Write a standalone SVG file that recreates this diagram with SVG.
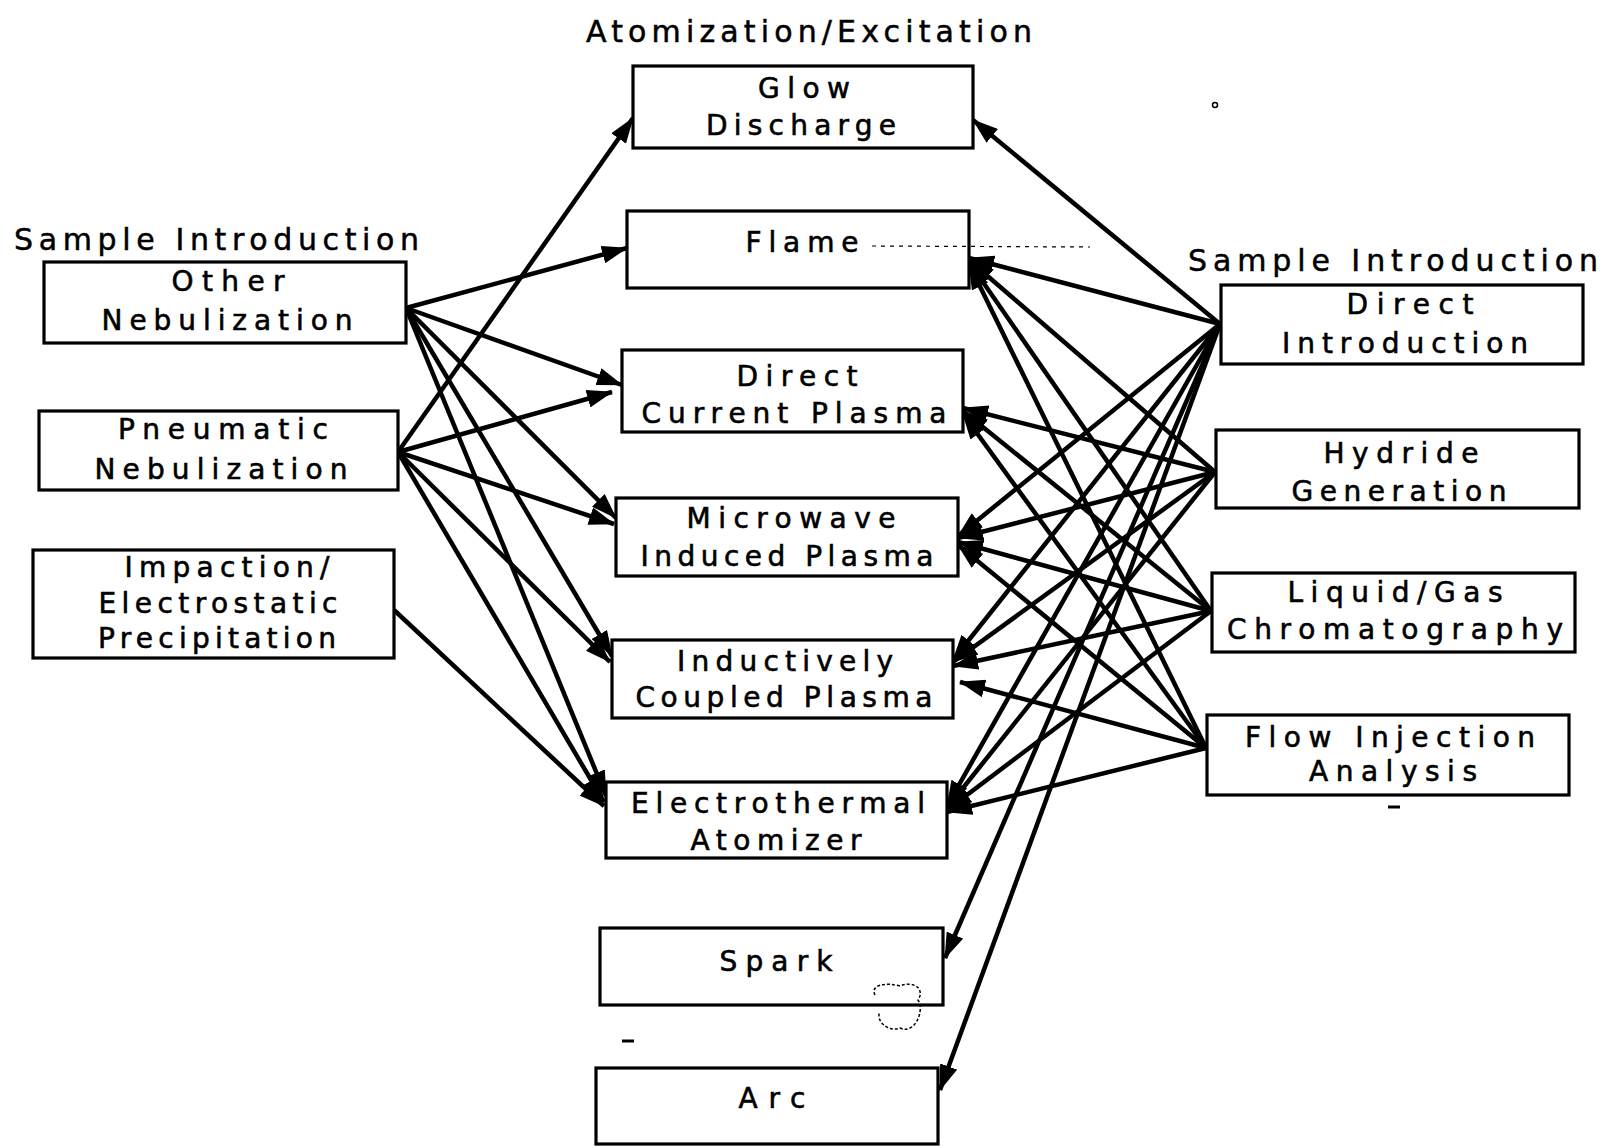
<svg xmlns="http://www.w3.org/2000/svg" width="1606" height="1146" viewBox="0 0 1606 1146">
<defs>
<style>
.box{fill:#fff;stroke:#000;stroke-width:3.2}
.t{font-family:"DejaVu Sans","Liberation Sans",Arial,sans-serif;font-size:28px;fill:#000;stroke:#000;stroke-width:0.6;text-anchor:middle}
.h{font-family:"DejaVu Sans","Liberation Sans",Arial,sans-serif;font-size:30px;fill:#000;stroke:#000;stroke-width:0.5}
.c line{stroke:#000;stroke-width:4.5;marker-end:url(#ah)}
.art{fill:none;stroke:#000;stroke-width:1.5}
</style>
<marker id="ah" markerUnits="userSpaceOnUse" markerWidth="26" markerHeight="18" refX="25" refY="9" orient="auto">
<path d="M0,0 L26,9 L0,18 z" fill="#000"/>
</marker>
</defs>
<rect width="1606" height="1146" fill="#fff"/>

<text class="h" x="809" y="42" text-anchor="middle" textLength="446">Atomization/Excitation</text>
<text class="h" x="14" y="250" textLength="405">Sample Introduction</text>
<text class="h" x="1188" y="271" textLength="410">Sample Introduction</text>

<g id="connectors" class="c">
<line x1="406" y1="308" x2="627" y2="248"/>
<line x1="406" y1="308" x2="622" y2="385"/>
<line x1="406" y1="308" x2="616" y2="518"/>
<line x1="406" y1="308" x2="612" y2="656"/>
<line x1="406" y1="308" x2="606" y2="796"/>
<line x1="398" y1="452" x2="633" y2="118"/>
<line x1="398" y1="452" x2="612" y2="392"/>
<line x1="398" y1="452" x2="614" y2="524"/>
<line x1="398" y1="452" x2="610" y2="662"/>
<line x1="398" y1="452" x2="604" y2="802"/>
<line x1="394" y1="610" x2="604" y2="806"/>

<line x1="1220" y1="324" x2="973" y2="120"/>
<line x1="1220" y1="324" x2="969" y2="258"/>
<line x1="1220" y1="324" x2="958" y2="536"/>
<line x1="1220" y1="324" x2="953" y2="660"/>
<line x1="1220" y1="324" x2="947" y2="806"/>
<line x1="1220" y1="324" x2="945" y2="958"/>
<line x1="1220" y1="324" x2="940" y2="1090"/>
<line x1="1215" y1="472" x2="969" y2="260"/>
<line x1="1215" y1="472" x2="963" y2="408"/>
<line x1="1215" y1="472" x2="958" y2="538"/>
<line x1="1215" y1="472" x2="953" y2="662"/>
<line x1="1215" y1="472" x2="947" y2="808"/>
<line x1="1211" y1="611" x2="969" y2="262"/>
<line x1="1211" y1="611" x2="963" y2="411"/>
<line x1="1211" y1="611" x2="958" y2="542"/>
<line x1="1211" y1="611" x2="953" y2="666"/>
<line x1="1211" y1="611" x2="947" y2="810"/>
<line x1="1206" y1="748" x2="969" y2="264"/>
<line x1="1206" y1="748" x2="963" y2="414"/>
<line x1="1206" y1="748" x2="958" y2="545"/>
<line x1="1206" y1="748" x2="960" y2="682"/>
<line x1="1206" y1="748" x2="947" y2="812"/>
</g>

<g id="other-nebulization"><rect class="box" x="44" y="262" width="362" height="81"/>
<text class="t" x="228" y="291" textLength="113">Other</text><text class="t" x="227" y="330" textLength="251">Nebulization</text></g>
<g id="pneumatic-nebulization"><rect class="box" x="39" y="411" width="359" height="79"/>
<text class="t" x="223" y="439" textLength="210">Pneumatic</text><text class="t" x="221" y="479" textLength="253">Nebulization</text></g>
<g id="impaction"><rect class="box" x="33" y="550" width="361" height="108"/>
<text class="t" x="227" y="577" textLength="205">Impaction/</text><text class="t" x="218" y="613" textLength="239">Electrostatic</text><text class="t" x="217" y="648" textLength="238">Precipitation</text></g>

<g id="glow-discharge"><rect class="box" x="633" y="66" width="340" height="82"/>
<text class="t" x="804" y="98" textLength="92">Glow</text><text class="t" x="801" y="135" textLength="190">Discharge</text></g>
<g id="flame"><rect class="box" x="627" y="211" width="342" height="77"/>
<text class="t" x="802" y="252" textLength="113">Flame</text></g>
<g id="dcp"><rect class="box" x="622" y="350" width="341" height="82"/>
<text class="t" x="797" y="386" textLength="121">Direct</text><text class="t" x="794" y="423" textLength="305">Current Plasma</text></g>
<g id="mip"><rect class="box" x="616" y="498" width="342" height="78"/>
<text class="t" x="791" y="528" textLength="209">Microwave</text><text class="t" x="787" y="566" textLength="293">Induced Plasma</text></g>
<g id="icp"><rect class="box" x="612" y="640" width="341" height="78"/>
<text class="t" x="785" y="671" textLength="216">Inductively</text><text class="t" x="784" y="707" textLength="297">Coupled Plasma</text></g>
<g id="electrothermal"><rect class="box" x="606" y="782" width="341" height="76"/>
<text class="t" x="778" y="813" textLength="294">Electrothermal</text><text class="t" x="776" y="850" textLength="171">Atomizer</text></g>
<g id="spark"><rect class="box" x="600" y="928" width="343" height="77"/>
<text class="t" x="776" y="971" textLength="113">Spark</text></g>
<g id="arc"><rect class="box" x="596" y="1068" width="342" height="76"/>
<text class="t" x="772" y="1108" textLength="67">Arc</text></g>

<g id="direct-introduction"><rect class="box" x="1221" y="285" width="362" height="79"/>
<text class="t" x="1410" y="314" textLength="127">Direct</text><text class="t" x="1405" y="353" textLength="246">Introduction</text></g>
<g id="hydride-generation"><rect class="box" x="1216" y="430" width="363" height="78"/>
<text class="t" x="1401" y="463" textLength="155">Hydride</text><text class="t" x="1399" y="501" textLength="215">Generation</text></g>
<g id="chromatography"><rect class="box" x="1212" y="573" width="363" height="79"/>
<text class="t" x="1395" y="602" textLength="215">Liquid/Gas</text><text class="t" x="1395" y="639" textLength="336">Chromatography</text></g>
<g id="fia"><rect class="box" x="1207" y="715" width="362" height="80"/>
<text class="t" x="1390" y="747" textLength="290">Flow Injection</text><text class="t" x="1393" y="781" textLength="168">Analysis</text></g>

<line x1="872" y1="246" x2="1090" y2="247" stroke="#000" stroke-width="1.2" stroke-dasharray="4,5"/>
<circle class="art" cx="1215" cy="105" r="2.5"/>
<path class="art" stroke-width="1" stroke-dasharray="3,2" d="M875,995 C870,985 885,982 900,986 C915,980 925,990 918,1000 C925,1010 915,1035 900,1028 C888,1033 875,1020 880,1012"/>
<line x1="622" y1="1041" x2="634" y2="1041" stroke="#000" stroke-width="3"/>
<line x1="1388" y1="807" x2="1400" y2="807" stroke="#000" stroke-width="3"/>
</svg>
